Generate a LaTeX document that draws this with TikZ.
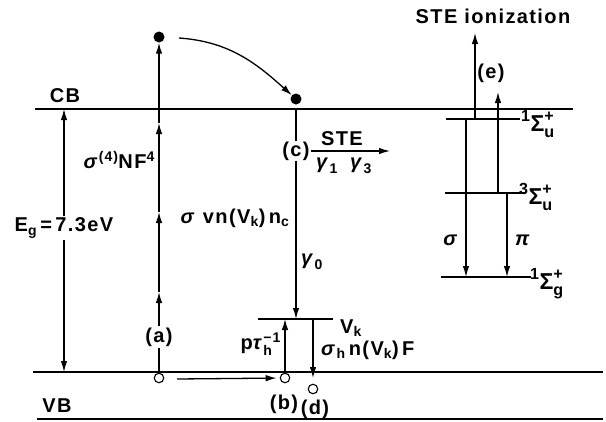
\documentclass[tikz,border=0pt]{standalone}
\usepackage{amsmath}
\usepackage{fontspec}
\setmainfont{Liberation Sans}[LetterSpace=7]
\usetikzlibrary{arrows.meta}
\newcommand\gk[1]{\textit{#1}}
\newcommand\lblfont{\fontsize{20}{22}\selectfont\bfseries}
\newcommand\sgfont{\fontsize{23}{25}\selectfont\bfseries}
\begin{document}
\begin{tikzpicture}[x=1pt,y=-1pt,
  arr/.style={line width=1.3pt,-{Latex[length=11pt,width=6.5pt]}},
  darr/.style={line width=1.3pt,{Latex[length=11pt,width=6.5pt]}-{Latex[length=11pt,width=6.5pt]}},
  band/.style={line width=1.8pt},
  lvl/.style={line width=1.3pt},
  hole/.style={circle,draw,line width=1.1pt,minimum size=9.5pt,inner sep=0pt,fill=white},
  dot/.style={circle,fill,minimum size=11pt,inner sep=0pt},
  lab/.style={font=\lblfont,inner sep=1pt},
  slab/.style={font=\sgfont,inner sep=0pt,anchor=base west},
  wlab/.style={lab,fill=white,inner sep=2pt}]
\useasboundingbox (0,0) rectangle (606,421);

% bands
\coordinate (cbL) at (35,109);  \coordinate (cbR) at (573,109);
\coordinate (vbL) at (33,372);  \coordinate (vbR) at (603,372);
\coordinate (btL) at (37,419);  \coordinate (btR) at (603,419);
\draw[band] (cbL) -- (cbR);
\draw[band] (vbL) -- (vbR);
\draw[band] (btL) -- (btR);
\node[lab] (cb) at (65,96) {CB};
\node[lab] (vb) at (57,406) {VB};

% band gap
\coordinate (egT) at (64,109); \coordinate (egB) at (64,372);
\draw[darr] (egT) -- (egB);
\node[wlab] (eg) at (64,228) {$\text{E}_{\text{g}}$\,=\,7.3eV};

% (a) multiphoton excitation
\node[hole] (h1) at (159,378) {};
\node[dot] (e1) at (159,37) {};
\coordinate (a1) at (159,292);
\coordinate (a2) at (159,212);
\coordinate (a3) at (159,123);
\draw[arr] (h1) -- (a1);
\draw[arr] (a1) -- (a2);
\draw[arr] (a2) -- (a3);
\draw[arr] (a3) -- (e1);
\node[wlab] (la) at (159,337) {(a)};
\node[lab,anchor=east] (sig4) at (156,160) {$\text{\gk{σ}}^{\text{(4)}}$NF$^{\text{4}}$};

% relaxation of electron
\node[dot] (e2) at (296,99) {};
\coordinate (cs) at (179,38);
\draw[arr] (cs) to[out=-4,in=138] (e2);

% (c) capture
\coordinate (c0) at (296,109);
\coordinate (vkc) at (296,319);
\draw[arr] (c0) -- (vkc);
\node[wlab,inner sep=1pt] (lc) at (296,151) {(c)};
\coordinate (steE) at (390,151);
\draw[arr] (lc.east) -- (steE);
\node[lab] (ste) at (342,139) {STE};
\node[lab] (g1) at (327,166) {$\text{\gk{γ}}_{\text{1}}$};
\node[lab] (g3) at (361,166) {$\text{\gk{γ}}_{\text{3}}$};
\node[lab] (svn) at (235,218) {\gk{σ} vn(V$_{\text{k}}$)\,n$_{\text{c}}$};
\node[lab] (g0) at (312,262) {$\text{\gk{γ}}_{\text{0}}$};

% Vk level
\coordinate (vkL) at (258,319); \coordinate (vkR) at (333,319);
\draw[lvl] (vkL) -- (vkR);
\node[lab] (vk) at (351,328) {V$_{\text{k}}$};

% holes (b), (d)
\node[hole] (hb) at (285,378) {};
\node[hole] (hd) at (313,389) {};
\coordinate (hs) at (177,379);
\draw[arr,shorten >=3pt] (hs) -- (hb);
\coordinate (pt) at (285,319);
\draw[arr] (hb) -- (pt);
\coordinate (dtop) at (313,319);
\coordinate (dtip) at (313,378);
\draw[arr] (dtop) -- (dtip);
\node[lab,anchor=east] (ptau) at (282,344) {p$\text{\gk{τ}}^{\text{−1}}_{\text{h}}$};
\node[lab,anchor=west] (sh) at (320,350) {$\text{\gk{σ}}_{\text{h}}$\,n(V$_{\text{k}}$)\,F};
\node[lab] (lb) at (284,404) {(b)};
\node[lab] (ld) at (315,409) {(d)};

% STE levels
\coordinate (u1L) at (446,119); \coordinate (u1R) at (520,119);
\coordinate (u3L) at (445,193); \coordinate (u3R) at (526,193);
\coordinate (gL) at (441,277);  \coordinate (gR) at (531,277);
\draw[lvl] (u1L) -- (u1R);
\draw[lvl] (u3L) -- (u3R);
\draw[lvl] (gL) -- (gR);
\node[slab] (t1) at (521,131) {${}^{\text{1}}\text{Σ}^{\text{+}}_{\text{u}}$};
\node[slab] (t3) at (519,204) {${}^{\text{3}}\text{Σ}^{\text{+}}_{\text{u}}$};
\node[slab] (tg) at (530,289) {${}^{\text{1}}\text{Σ}^{\text{+}}_{\text{g}}$};

\coordinate (s1) at (466,119); \coordinate (s2) at (466,277);
\draw[arr] (s1) -- (s2);
\coordinate (p1) at (507,193); \coordinate (p2) at (507,277);
\draw[arr] (p1) -- (p2);
\coordinate (e0) at (475,119); \coordinate (eT) at (475,33);
\draw[arr] (e0) -- (eT);
\coordinate (q0) at (498,193); \coordinate (qT) at (498,92);
\draw[arr] (q0) -- (qT);
\node[lab] (ls) at (451,240) {\gk{σ}};
\node[lab] (lp) at (523,240) {\gk{π}};
\node[lab] (le) at (491,73) {(e)};
\node[lab] (ion) at (493,16) {STE ionization};
\end{tikzpicture}
\end{document}
